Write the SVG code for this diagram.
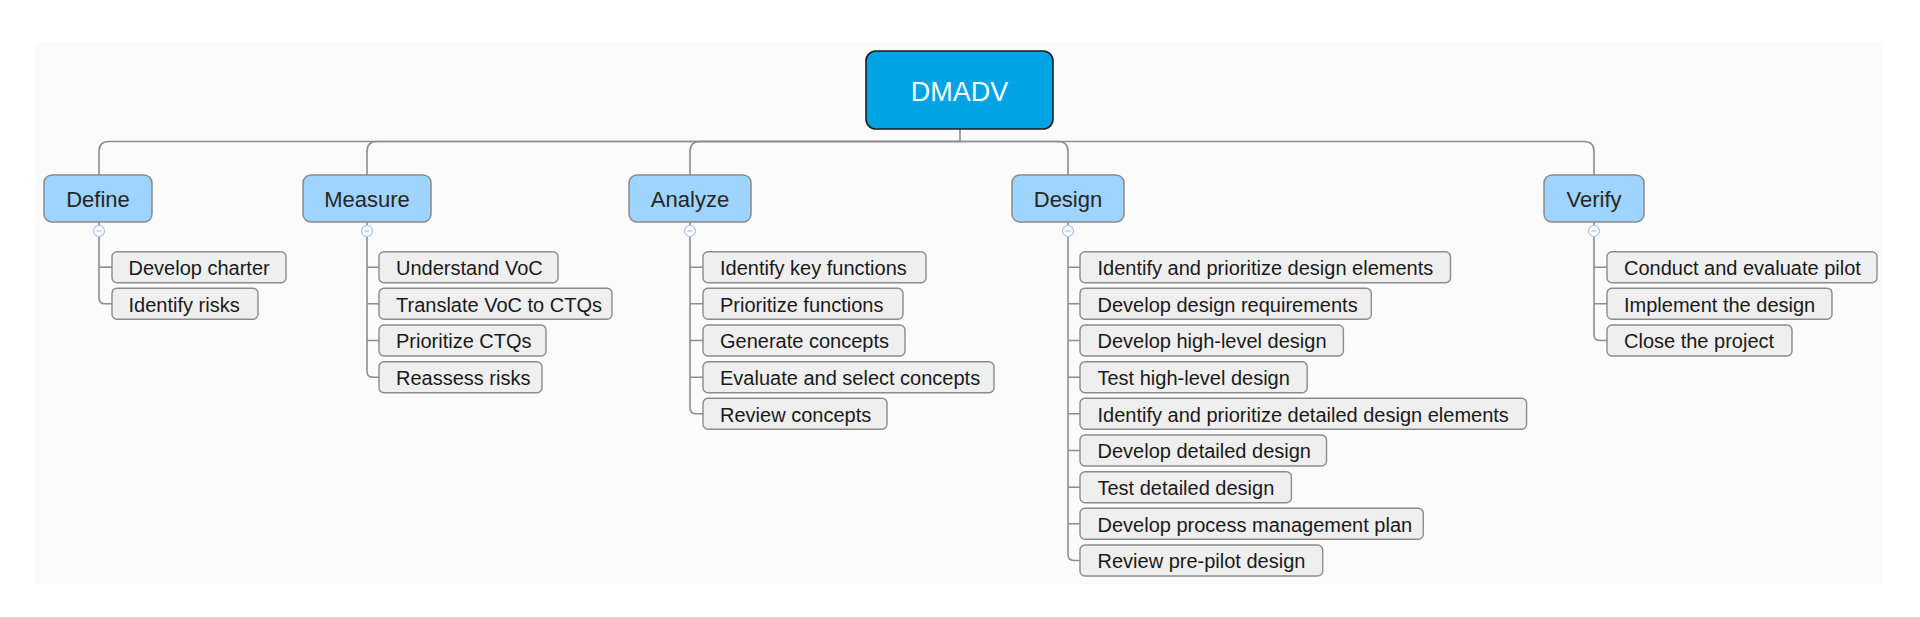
<svg xmlns="http://www.w3.org/2000/svg" width="1920" height="617" viewBox="0 0 1920 617">
<style>
.conn{fill:none;stroke:#8e8e8e;stroke-width:1.6}
.root{fill:#00a3e4;stroke:#1c1c1c;stroke-width:1.6}
.roott{font-family:"Liberation Sans",Arial,sans-serif;font-size:27px;fill:#ffffff;text-anchor:middle}
.l1{fill:#9ed4ff;stroke:#8a8a8a;stroke-width:1.5}
.l1t{font-family:"Liberation Sans",Arial,sans-serif;font-size:22px;fill:#262626;text-anchor:middle}
.l2{fill:#efefef;stroke:#8c8c8c;stroke-width:1.4}
.l2t{font-family:"Liberation Sans",Arial,sans-serif;font-size:20px;fill:#1a1a1a}
.col{fill:#ffffff;stroke:#a9bff3;stroke-width:1.2}
.colm{stroke:#a9bff3;stroke-width:1.2}
</style>
<rect x="0" y="0" width="1920" height="617" fill="#ffffff"/>
<rect x="35" y="42" width="1848" height="543" fill="#fbfbfb"/>

<g id="connectors">
<path class="conn" d="M960 129 V141.5"/>
<path class="conn" d="M960 141.5 H109 Q99 141.5 99 151.5 V175"/>
<path class="conn" d="M960 141.5 H377 Q367 141.5 367 151.5 V175"/>
<path class="conn" d="M960 141.5 H700 Q690 141.5 690 151.5 V175"/>
<path class="conn" d="M960 141.5 H1058 Q1068 141.5 1068 151.5 V175"/>
<path class="conn" d="M960 141.5 H1584 Q1594 141.5 1594 151.5 V175"/>
<!-- Define children -->
<path class="conn" d="M99 222 V225.5"/>
<path class="conn" d="M99 236.5 V297.8 Q99 303.8 105 303.8 H112"/>
<path class="conn" d="M99 267.2 H112"/>
<!-- Measure children -->
<path class="conn" d="M367 222 V225.5"/>
<path class="conn" d="M367 236.5 V371.2 Q367 377.2 373 377.2 H379"/>
<path class="conn" d="M367 267.2 H379 M367 303.8 H379 M367 340.5 H379"/>
<!-- Analyze children -->
<path class="conn" d="M690 222 V225.5"/>
<path class="conn" d="M690 236.5 V407.8 Q690 413.8 696 413.8 H703"/>
<path class="conn" d="M690 267.2 H703 M690 303.8 H703 M690 340.5 H703 M690 377.2 H703"/>
<!-- Design children -->
<path class="conn" d="M1068 222 V225.5"/>
<path class="conn" d="M1068 236.5 V554.5 Q1068 560.5 1074 560.5 H1080"/>
<path class="conn" d="M1068 267.2 H1080 M1068 303.8 H1080 M1068 340.5 H1080 M1068 377.2 H1080 M1068 413.8 H1080 M1068 450.5 H1080 M1068 487.2 H1080 M1068 523.8 H1080"/>
<!-- Verify children -->
<path class="conn" d="M1594 222 V225.5"/>
<path class="conn" d="M1594 236.5 V334.5 Q1594 340.5 1600 340.5 H1607"/>
<path class="conn" d="M1594 267.2 H1607 M1594 303.8 H1607"/>
</g>

<g id="root">
<rect class="root" x="866" y="51" width="187" height="78" rx="10"/>
<text class="roott" x="959.5" y="101">DMADV</text>
</g>

<g id="define">
<rect class="l1" x="44" y="175" width="108" height="47" rx="8"/>
<text class="l1t" x="98" y="206.5">Define</text>
<circle class="col" cx="99" cy="231" r="5.5"/>
<line class="colm" x1="96.5" y1="231" x2="101.5" y2="231"/>
</g>
<g id="define-children">
<g id="develop-charter"><rect class="l2" x="112" y="251.7" width="174" height="31" rx="5"/><text class="l2t" x="128.5" y="275">Develop charter</text></g>
<g id="identify-risks"><rect class="l2" x="112" y="288.3" width="146" height="31" rx="5"/><text class="l2t" x="128.5" y="311.6">Identify risks</text></g>
</g>

<g id="measure">
<rect class="l1" x="303" y="175" width="128" height="47" rx="8"/>
<text class="l1t" x="367" y="206.5">Measure</text>
<circle class="col" cx="367" cy="231" r="5.5"/>
<line class="colm" x1="364.5" y1="231" x2="369.5" y2="231"/>
</g>
<g id="measure-children">
<g id="understand-voc"><rect class="l2" x="379" y="251.7" width="179" height="31" rx="5"/><text class="l2t" x="396" y="275">Understand VoC</text></g>
<g id="translate-voc"><rect class="l2" x="379" y="288.3" width="233" height="31" rx="5"/><text class="l2t" x="396" y="311.6">Translate VoC to CTQs</text></g>
<g id="prioritize-ctqs"><rect class="l2" x="379" y="325" width="167" height="31" rx="5"/><text class="l2t" x="396" y="348.3">Prioritize CTQs</text></g>
<g id="reassess-risks"><rect class="l2" x="379" y="361.7" width="163" height="31" rx="5"/><text class="l2t" x="396" y="385">Reassess risks</text></g>
</g>

<g id="analyze">
<rect class="l1" x="629" y="175" width="122" height="47" rx="8"/>
<text class="l1t" x="690" y="206.5">Analyze</text>
<circle class="col" cx="690" cy="231" r="5.5"/>
<line class="colm" x1="687.5" y1="231" x2="692.5" y2="231"/>
</g>
<g id="analyze-children">
<g id="identify-key-functions"><rect class="l2" x="703" y="251.7" width="223" height="31" rx="5"/><text class="l2t" x="720" y="275">Identify key functions</text></g>
<g id="prioritize-functions"><rect class="l2" x="703" y="288.3" width="200" height="31" rx="5"/><text class="l2t" x="720" y="311.6">Prioritize functions</text></g>
<g id="generate-concepts"><rect class="l2" x="703" y="325" width="202" height="31" rx="5"/><text class="l2t" x="720" y="348.3">Generate concepts</text></g>
<g id="evaluate-concepts"><rect class="l2" x="703" y="361.7" width="291" height="31" rx="5"/><text class="l2t" x="720" y="385">Evaluate and select concepts</text></g>
<g id="review-concepts"><rect class="l2" x="703" y="398.3" width="184" height="31" rx="5"/><text class="l2t" x="720" y="421.6">Review concepts</text></g>
</g>

<g id="design">
<rect class="l1" x="1012" y="175" width="112" height="47" rx="8"/>
<text class="l1t" x="1068" y="206.5">Design</text>
<circle class="col" cx="1068" cy="231" r="5.5"/>
<line class="colm" x1="1065.5" y1="231" x2="1070.5" y2="231"/>
</g>
<g id="design-children">
<g id="identify-design-elements"><rect class="l2" x="1080" y="251.7" width="370.5" height="31" rx="5"/><text class="l2t" x="1097.5" y="275">Identify and prioritize design elements</text></g>
<g id="develop-design-requirements"><rect class="l2" x="1080" y="288.3" width="291.3" height="31" rx="5"/><text class="l2t" x="1097.5" y="311.6">Develop design requirements</text></g>
<g id="develop-high-level"><rect class="l2" x="1080" y="325" width="263.4" height="31" rx="5"/><text class="l2t" x="1097.5" y="348.3">Develop high-level design</text></g>
<g id="test-high-level"><rect class="l2" x="1080" y="361.7" width="227.2" height="31" rx="5"/><text class="l2t" x="1097.5" y="385">Test high-level design</text></g>
<g id="identify-detailed-elements"><rect class="l2" x="1080" y="398.3" width="446.6" height="31" rx="5"/><text class="l2t" x="1097.5" y="421.6">Identify and prioritize detailed design elements</text></g>
<g id="develop-detailed"><rect class="l2" x="1080" y="435" width="246.5" height="31" rx="5"/><text class="l2t" x="1097.5" y="458.3">Develop detailed design</text></g>
<g id="test-detailed"><rect class="l2" x="1080" y="471.7" width="211.4" height="31" rx="5"/><text class="l2t" x="1097.5" y="495">Test detailed design</text></g>
<g id="process-management-plan"><rect class="l2" x="1080" y="508.3" width="343.3" height="31" rx="5"/><text class="l2t" x="1097.5" y="531.6">Develop process management plan</text></g>
<g id="review-pre-pilot"><rect class="l2" x="1080" y="545" width="242.7" height="31" rx="5"/><text class="l2t" x="1097.5" y="568.3">Review pre-pilot design</text></g>
</g>

<g id="verify">
<rect class="l1" x="1544" y="175" width="100" height="47" rx="8"/>
<text class="l1t" x="1594" y="206.5">Verify</text>
<circle class="col" cx="1594" cy="231" r="5.5"/>
<line class="colm" x1="1591.5" y1="231" x2="1596.5" y2="231"/>
</g>
<g id="verify-children">
<g id="conduct-pilot"><rect class="l2" x="1607" y="251.7" width="270" height="31" rx="5"/><text class="l2t" x="1624" y="275">Conduct and evaluate pilot</text></g>
<g id="implement-design"><rect class="l2" x="1607" y="288.3" width="225" height="31" rx="5"/><text class="l2t" x="1624" y="311.6">Implement the design</text></g>
<g id="close-project"><rect class="l2" x="1607" y="325" width="185" height="31" rx="5"/><text class="l2t" x="1624" y="348.3">Close the project</text></g>
</g>
</svg>
